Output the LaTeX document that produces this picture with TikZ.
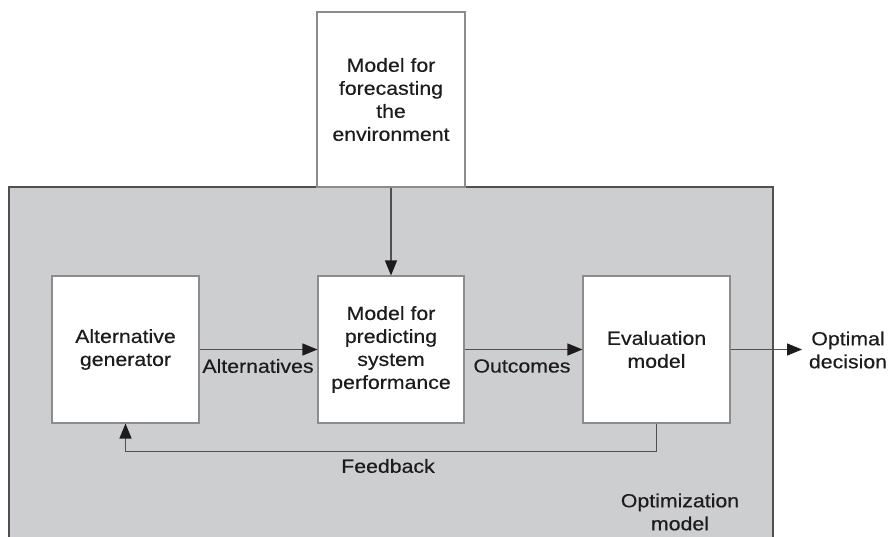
\documentclass[tikz,border=0pt]{standalone}
\usepackage{fontspec}
\setmainfont{Liberation Sans}[FakeStretch=1.12, FakeBold=0.4]
\usetikzlibrary{arrows.meta}
\definecolor{panel}{RGB}{205,206,208}
\definecolor{boxline}{RGB}{140,140,142}
\definecolor{conn}{RGB}{80,80,82}
\definecolor{ink}{RGB}{30,27,28}
\tikzset{
  lbl/.style={font=\fontsize{19}{23}\selectfont, text=ink, align=center, inner sep=0pt},
  whitebox/.style={draw=boxline, line width=1.1pt, fill=white, lbl},
  conn/.style={draw=conn, line width=1.3pt, -{Triangle[length=15pt,width=12pt,color=ink]}},
}
\begin{document}
\begin{tikzpicture}[x=1pt,y=-1pt]
\useasboundingbox (0,0) rectangle (889,537);
% optimization panel
\fill[panel] (9,187) rectangle (773,540);
\draw[draw=conn, line width=1.2pt] (9,540) -- (9,187) -- (773,187) -- (773,540);
% boxes
\node[whitebox, minimum width=148pt, minimum height=175pt] (fc) at (391,99.5)
  {Model for\\forecasting\\the\\environment};
\node[whitebox, minimum width=147pt, minimum height=147pt] (ag) at (125.5,349.5)
  {Alternative\\generator};
\node[whitebox, minimum width=146pt, minimum height=147pt] (mp) at (391,349.5)
  {Model for\\predicting\\system\\performance};
\node[whitebox, minimum width=147pt, minimum height=147pt] (ev) at (656.5,349.5)
  {Evaluation\\model};
% labels
\node[lbl] (alt) at (258,366) {Alternatives};
\node[lbl] (out) at (522,366) {Outcomes};
\node[lbl] (opt) at (848,350) {Optimal\\decision};
\node[lbl] (fb) at (388,466) {Feedback};
\node[lbl] (om) at (680,512) {Optimization\\model};
% connectors
\coordinate (optend) at (802,349.5);
\draw[conn] (fc.south) -- (mp.north);
\draw[conn] (ag.east) -- (mp.west);
\draw[conn] (mp.east) -- (ev.west);
\draw[conn] (ev.east) -- (optend);
\draw[conn] (ev.south) -- ++(0,28) -| (ag.south);
\end{tikzpicture}
\end{document}
